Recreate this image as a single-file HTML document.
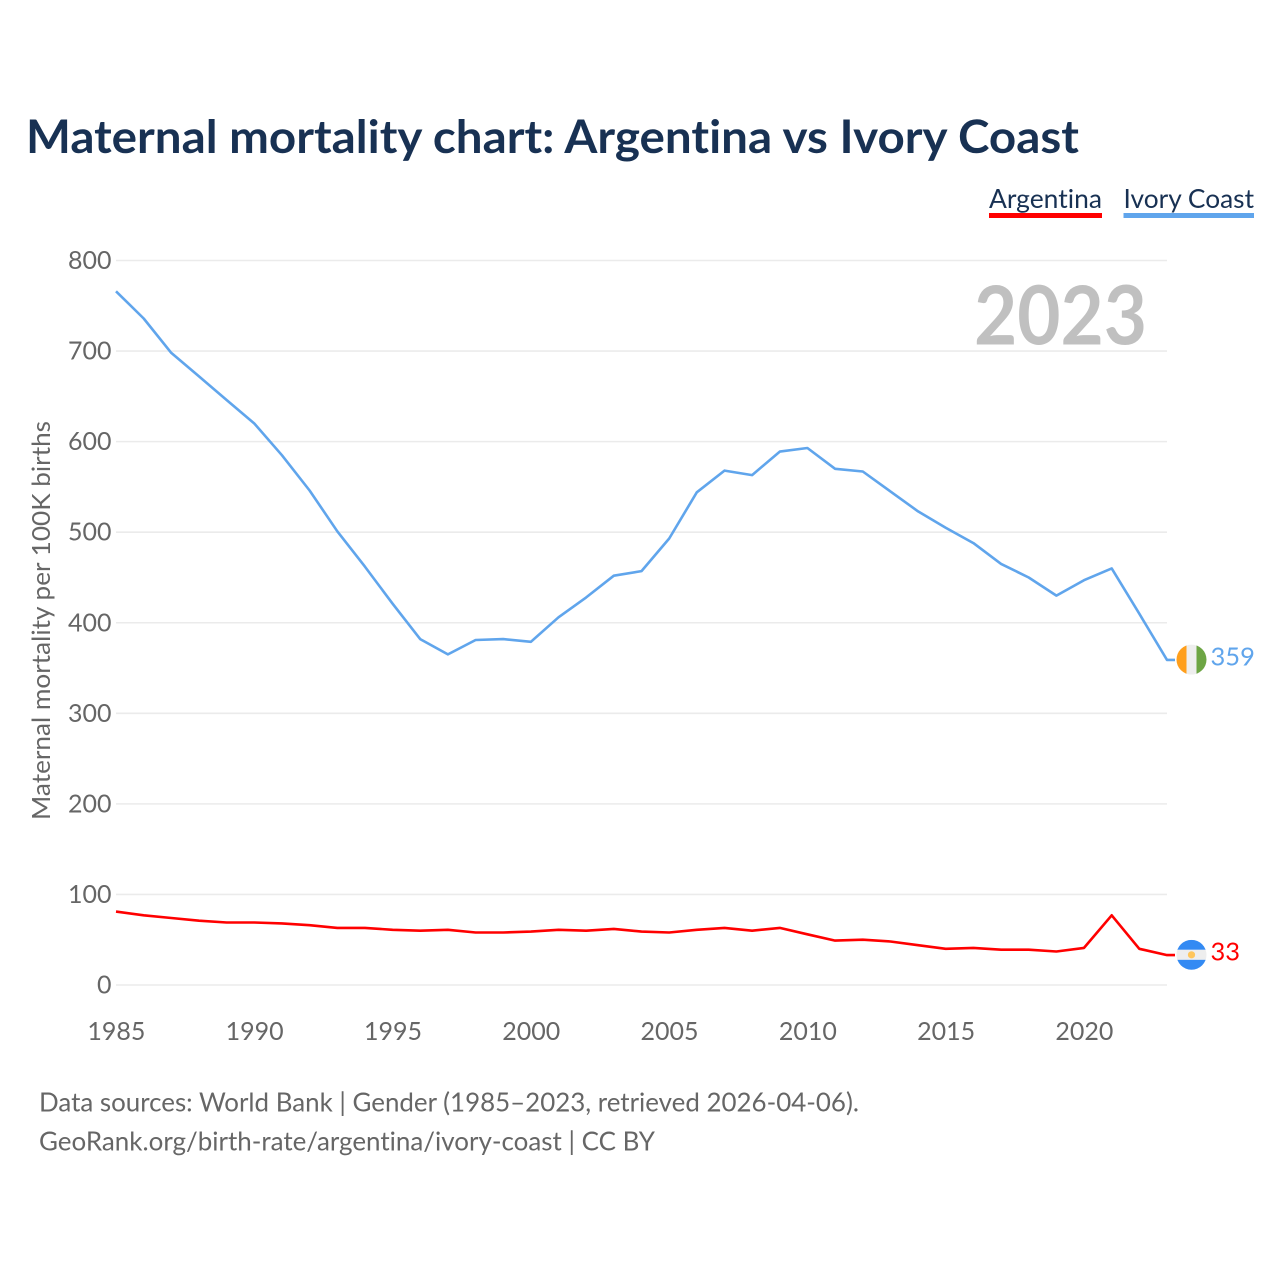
<!DOCTYPE html>
<html lang="en">
<head>
<meta charset="utf-8">
<title>Maternal mortality chart: Argentina vs Ivory Coast</title>
<style>
html,body{margin:0;padding:0;background:#fff;width:1280px;height:1280px;overflow:hidden}
svg{display:block}
text{font-family:"Lato","Carlito","Liberation Sans",sans-serif;font-variant-ligatures:none;font-feature-settings:"liga" 0,"clig" 0}
</style>
</head>
<body>
<svg id="chart" xmlns="http://www.w3.org/2000/svg" width="1280" height="1280" viewBox="0 0 1280 1280">
  <text x="26" y="153" font-size="46" font-weight="700" fill="#183153" textLength="1053" lengthAdjust="spacingAndGlyphs">Maternal mortality chart: Argentina vs Ivory Coast</text>
  <g>
    <text x="989" y="208" font-size="26" fill="#183153" textLength="113" lengthAdjust="spacingAndGlyphs">Argentina</text>
    <rect x="989" y="213" width="113" height="5" fill="#ff0000"></rect>
  </g>
  <g>
    <text x="1123.5" y="208" font-size="26" fill="#183153" textLength="130.5" lengthAdjust="spacingAndGlyphs">Ivory Coast</text>
    <rect x="1123.5" y="213" width="130.5" height="5" fill="#60a5ec"></rect>
  </g>
  <g id="grid"></g>
  <g id="yticks"></g>
  <g id="xticks"></g>
  <text x="1147" y="344.5" text-anchor="end" font-size="81" font-weight="700" fill="#c0c0c0" textLength="173" lengthAdjust="spacingAndGlyphs">2023</text>
  <text transform="translate(50,620.5) rotate(-90)" text-anchor="middle" font-size="25" fill="#666666" textLength="399" lengthAdjust="spacingAndGlyphs">Maternal mortality per 100K births</text>
  <g id="series"></g>
  <defs>
    <clipPath id="flag-clip"><circle cx="0" cy="0" r="15"></circle></clipPath>
  </defs>
  <g id="flag-ivory" clip-path="url(#flag-clip)">
    <rect x="-15" y="-15" width="10" height="30" fill="#ff9f1c"></rect>
    <rect x="-5" y="-15" width="10" height="30" fill="#eeeeee"></rect>
    <rect x="5" y="-15" width="10" height="30" fill="#6da544"></rect>
  </g>
  <g id="flag-argentina" clip-path="url(#flag-clip)">
    <rect x="-15" y="-15" width="30" height="10" fill="#338af3"></rect>
    <rect x="-15" y="-5" width="30" height="10" fill="#eeeeee"></rect>
    <rect x="-15" y="5" width="30" height="10" fill="#338af3"></rect>
    <circle cx="0" cy="0" r="3.6" fill="#ffc65c"></circle>
  </g>
  <text id="label-ivory" x="1210.5" font-size="25.5" fill="#60a5ec"></text>
  <text id="label-argentina" x="1210.5" font-size="25.5" fill="#ff0000"></text>
  <text x="39" y="1111.5" font-size="26" fill="#666666" textLength="820" lengthAdjust="spacingAndGlyphs">Data sources: World Bank | Gender (1985–2023, retrieved 2026-04-06).</text>
  <text x="39" y="1150.5" font-size="26" fill="#666666" textLength="616" lengthAdjust="spacingAndGlyphs">GeoRank.org/birth-rate/argentina/ivory-coast | CC BY</text>
</svg>
<script>
const years = [1985,1986,1987,1988,1989,1990,1991,1992,1993,1994,1995,1996,1997,1998,1999,2000,2001,2002,2003,2004,2005,2006,2007,2008,2009,2010,2011,2012,2013,2014,2015,2016,2017,2018,2019,2020,2021,2022,2023];
const ivoryCoast = [766,736,698,672,646,620,585,546,501,462,421,382,365,381,382,379,406,428,452,457,493,544,568,563,589,593,570,567,545,523,505,488,465,450,430,447,460,410,359];
const argentina = [81,77,74,71,69,69,68,66,63,63,61,60,61,58,58,59,61,60,62,59,58,61,63,60,63,56,49,50,48,44,40,41,39,39,37,41,77,40,33];
const yTickValues = [0,100,200,300,400,500,600,700,800];
const xTickValues = [1985,1990,1995,2000,2005,2010,2015,2020];

const SVGNS = 'http://www.w3.org/2000/svg';
const plotLeft = 116, plotRight = 1167, plotBottom = 985, plotTop = 260.5;
function xScale(year) {
  return plotLeft + (year - years[0]) * (plotRight - plotLeft) / (years[years.length - 1] - years[0]);
}
function yScale(value) {
  return plotBottom - value * (plotBottom - plotTop) / 800;
}
function make(tag, parent) {
  const el = document.createElementNS(SVGNS, tag);
  parent.appendChild(el);
  return el;
}

const grid = document.getElementById('grid');
const yticks = document.getElementById('yticks');
yTickValues.forEach(function (v) {
  const line = make('line', grid);
  
  
  line.setAttribute('x1', plotLeft);
  line.setAttribute('x2', plotRight);
  line.setAttribute('y1', yScale(v));
  line.setAttribute('y2', yScale(v));
  line.setAttribute('stroke', '#ebebeb');
  line.setAttribute('stroke-width', '1.6');
  const label = make('text', yticks);
  
  
  label.setAttribute('x', 111.5);
  label.setAttribute('y', yScale(v) + 8.5);
  label.setAttribute('text-anchor', 'end');
  label.setAttribute('font-size', '25');
  label.setAttribute('fill', '#666666');
  label.textContent = String(v);
});

const xticks = document.getElementById('xticks');
xTickValues.forEach(function (year) {
  const label = make('text', xticks);
  
  
  label.setAttribute('x', xScale(year) + 0.4);
  label.setAttribute('y', 1040);
  label.setAttribute('text-anchor', 'middle');
  label.setAttribute('font-size', '25');
  label.setAttribute('fill', '#666666');
  label.textContent = String(year);
});

function drawSeries(values, color, name) {
  const pts = values.map(function (v, i) {
    return xScale(years[i]).toFixed(1) + ',' + yScale(v).toFixed(1);
  });
  const last = values[values.length - 1];
  pts.push((xScale(years[years.length - 1]) + 8).toFixed(1) + ',' + yScale(last).toFixed(1));
  const line = make('polyline', document.getElementById('series'));
  
  
  line.setAttribute('points', pts.join(' '));
  line.setAttribute('fill', 'none');
  line.setAttribute('stroke', color);
  line.setAttribute('stroke-width', '2.6');
  line.setAttribute('stroke-linejoin', 'round');
}
drawSeries(ivoryCoast, '#60a5ec', 'line-ivory-coast');
drawSeries(argentina, '#ff0000', 'line-argentina');

function placeEnd(values, flagId, labelId) {
  const last = values[values.length - 1];
  const y = yScale(last);
  document.getElementById(flagId).setAttribute('transform', 'translate(1191.5,' + (y - 0.3) + ')');
  const label = document.getElementById(labelId);
  label.setAttribute('y', y + 5.5);
  label.textContent = String(last);
}
placeEnd(ivoryCoast, 'flag-ivory', 'label-ivory');
placeEnd(argentina, 'flag-argentina', 'label-argentina');
</script>
</body>
</html>
